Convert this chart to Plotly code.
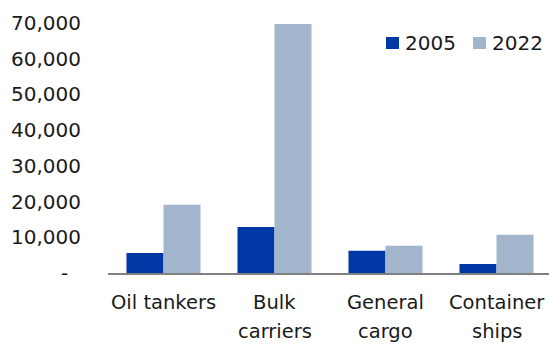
import plotly.graph_objects as go

# Ship categories with their two-line axis labels
categories = ["Oil tankers", "Bulk carriers", "General cargo", "Container ships"]
label_line1 = ["Oil tankers", "Bulk", "General", "Container"]
label_line2 = ["", "carriers", "cargo", "ships"]

# Series values
years = ["2005", "2022"]
values_2005 = [5600, 12900, 6200, 2500]
values_2022 = [19100, 69700, 7600, 10700]

# Y axis ticks
y_tickvals = [0, 10000, 20000, 30000, 40000, 50000, 60000, 70000]
y_ticktext = ["-\u00a0\u00a0", "10,000", "20,000", "30,000", "40,000",
              "50,000", "60,000", "70,000"]

colors = ["#0039A6", "#A3B5CC"]
font_family = "DejaVu Sans"
text_color = "#1a1a1a"

W, H = 549, 345
ML, MR, MT, MB = 108, 0, 23, 72
plot_w = W - ML - MR
plot_h = H - MT - MB

fig = go.Figure()
for name, vals, col in zip(years, [values_2005, values_2022], colors):
    fig.add_trace(go.Bar(x=categories, y=vals, name=name,
                         marker=dict(color=col, line=dict(width=0))))

# Category labels under the axis, one annotation per line
annotations = []
for cat, l1, l2 in zip(categories, label_line1, label_line2):
    for text, shift in ((l1, -29), (l2, -58)):
        if text:
            annotations.append(dict(x=cat, xref="x", y=0, yref="paper",
                                    text=text, showarrow=False,
                                    xanchor="center", yanchor="middle",
                                    yshift=shift,
                                    font=dict(family=font_family, size=19.5,
                                              color=text_color)))

# Legend: colored squares followed by year labels
def px_x(px):
    return (px - ML) / plot_w

def px_y(py):
    return (H - MB - py) / plot_h

shapes = []
legend_items = [(386, 405), (473, 492)]
for (sq_x, tx_x), name, col in zip(legend_items, years, colors):
    shapes.append(dict(type="rect", xref="paper", yref="paper",
                       x0=px_x(sq_x), x1=px_x(sq_x + 13),
                       y0=px_y(49), y1=px_y(37),
                       fillcolor=col, line=dict(width=0)))
    annotations.append(dict(x=px_x(tx_x), xref="paper", y=px_y(43), yref="paper",
                            text=name, showarrow=False,
                            xanchor="left", yanchor="middle", xshift=-2,
                            font=dict(family=font_family, size=20,
                                      color=text_color)))

fig.update_layout(
    width=W, height=H,
    margin=dict(l=ML, r=MR, t=MT, b=MB, pad=0),
    paper_bgcolor="white", plot_bgcolor="white",
    barmode="group", bargap=0.333, bargroupgap=0,
    showlegend=False,
    font=dict(family=font_family, size=20, color=text_color),
    xaxis=dict(type="category", range=[-0.5, -0.5 + plot_w / 111],
               showticklabels=False, ticks="", showgrid=False,
               showline=True, linecolor="#808080", linewidth=2,
               zeroline=False, fixedrange=True),
    yaxis=dict(range=[0, 70000], tickvals=y_tickvals, ticktext=y_ticktext,
               showgrid=False, zeroline=False, showline=False, ticks="",
               ticklabelstandoff=26,
               tickfont=dict(family=font_family, size=20, color=text_color)),
    annotations=annotations,
    shapes=shapes,
)

fig.write_html("out.html")
